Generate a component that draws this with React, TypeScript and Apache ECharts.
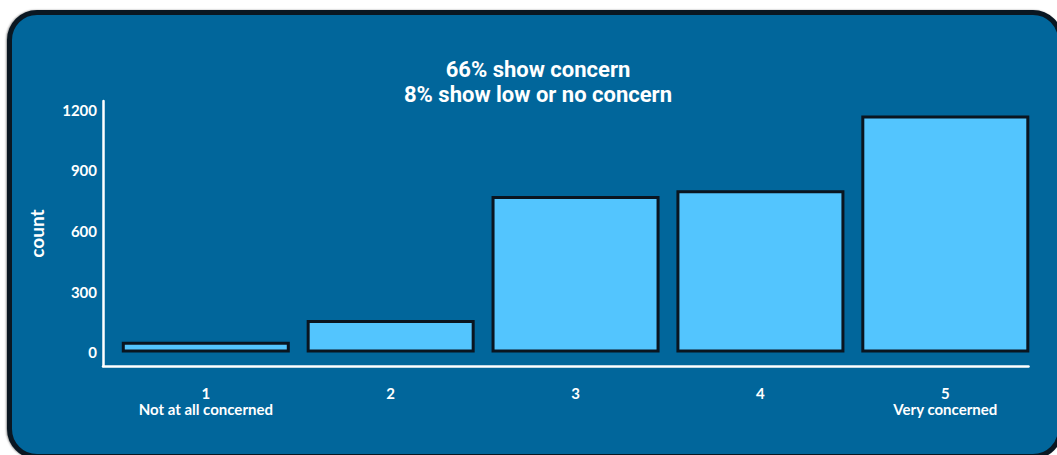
import React, { useEffect, useRef } from "react";
import * as echarts from "echarts";

const categories = [1, 2, 3, 4, 5];
const categoryNotes = ["Not at all concerned", "", "", "", "Very concerned"];
const counts = [53, 160, 773, 801, 1170];
const yTicks = [0, 300, 600, 900, 1200];
const titleLines = ["66% show concern", "8% show low or no concern"];

const FONT = "Lato";
const TITLE_FONT = "Roboto";

export default function App() {
  const ref = useRef<HTMLDivElement>(null);

  useEffect(() => {
    if (!ref.current) return;
    const chart = echarts.init(ref.current, undefined, { renderer: "svg" });
    chart.setOption({
      animation: false,
      backgroundColor: "transparent",
      textStyle: { fontFamily: FONT },
      grid: { left: 103, right: 28.5, top: 101, bottom: 89, containLabel: false },
      graphic: [
        {
          type: "text",
          x: 538,
          y: 81.5,
          style: {
            text: titleLines.join("\n"),
            fill: "#ffffff",
            font: `bold 22px ${TITLE_FONT}`,
            lineHeight: 25,
            textAlign: "center",
            textVerticalAlign: "middle",
          },
        },
      ],
      xAxis: {
        type: "value",
        min: 0.444,
        max: 5.45,
        axisLine: { show: true, onZero: false, lineStyle: { color: "#ffffff", width: 2.5 } },
        axisTick: { show: false },
        splitLine: { show: false },
        axisLabel: {
          customValues: categories,
          color: "#ffffff",
          fontFamily: FONT,
          fontWeight: "bold",
          fontSize: 15,
          lineHeight: 16,
          margin: 18.5,
          formatter: (v: number) => {
            const i = categories.indexOf(v);
            const note = i >= 0 ? categoryNotes[i] : "";
            return note ? `${v}\n${note}` : `${v}`;
          },
        },
      },
      yAxis: {
        type: "value",
        min: -66.7,
        max: 1242,
        name: "count",
        nameLocation: "middle",
        nameGap: 57,
        nameRotate: 90,
        nameTextStyle: { color: "#ffffff", fontFamily: FONT, fontWeight: "bold", fontSize: 19 },
        axisLine: { show: true, onZero: false, lineStyle: { color: "#ffffff", width: 2.5 } },
        axisTick: { show: false },
        splitLine: { show: false },
        axisLabel: {
          customValues: yTicks,
          color: "#ffffff",
          fontFamily: FONT,
          fontWeight: "bold",
          fontSize: 15,
          margin: 6,
          formatter: (v: number) => `${v}`,
        },
      },
      series: [
        {
          type: "bar",
          data: categories.map((c, i) => [c, counts[i]]),
          barWidth: 168,
          itemStyle: { color: "#53c5fe", borderColor: "#0a1520", borderWidth: 3 },
        },
      ],
    });
    return () => chart.dispose();
  }, []);

  return (
    <div
      style={{
        position: "fixed",
        left: 0,
        top: 0,
        width: 1057,
        height: 455,
        overflow: "hidden",
        background: "#ffffff",
      }}
    >
      <div
        style={{
          position: "absolute",
          left: 7,
          top: 10,
          width: 1056,
          height: 449,
          boxSizing: "border-box",
          border: "5px solid #0a1722",
          borderRadius: 30,
          background: "#01669b",
          boxShadow: "-1px 0 2px rgba(0,0,0,0.4)",
        }}
      />
      <div ref={ref} style={{ position: "absolute", left: 0, top: 0, width: 1057, height: 455 }} />
    </div>
  );
}
